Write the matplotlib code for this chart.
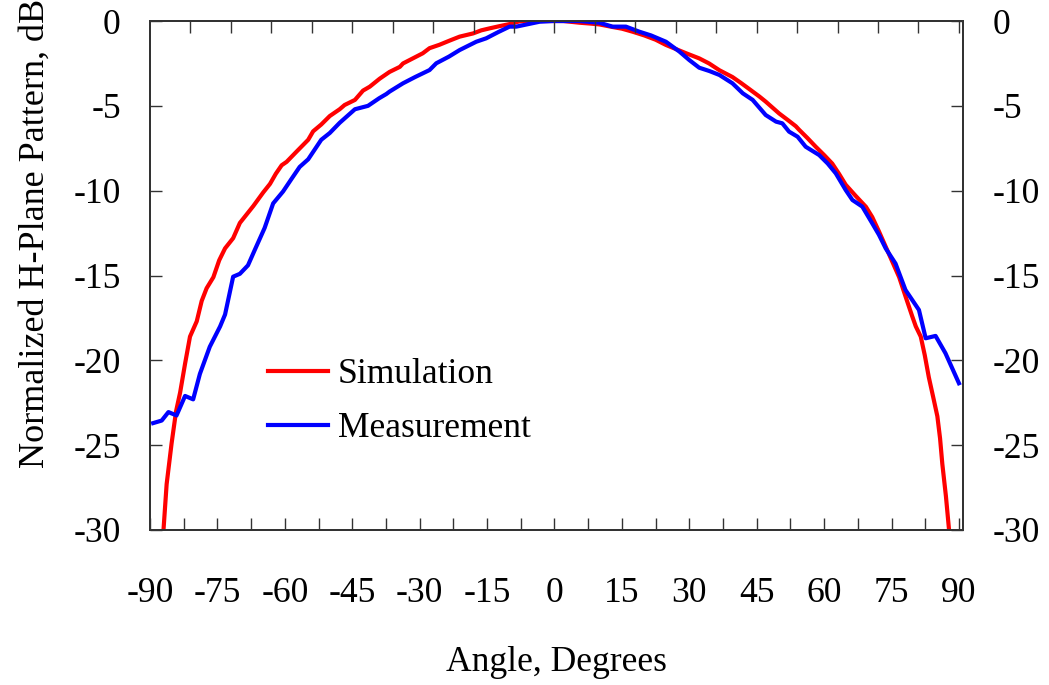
import matplotlib
matplotlib.use("Agg")
import matplotlib.pyplot as plt
from matplotlib.ticker import MultipleLocator

# Simulation (red) - angle in degrees, normalized pattern in dB
sim_angle = [-87.3, -87.0, -86.3, -85.2, -84.2, -83.3, -82.2, -81.1, -79.6, -78.5,
             -77.4, -75.9, -74.6, -73.3, -71.5, -70.0, -68.5, -67.0, -64.8, -63.3,
             -62.0, -60.7, -59.6, -57.4, -54.8, -53.7, -51.9, -50.0, -47.8, -46.7,
             -44.4, -42.6, -41.1, -38.9, -36.7, -34.4, -33.7, -31.5, -29.3, -27.8,
             -25.6, -23.3, -21.1, -18.1, -16.3, -14.4, -12.2, -10.0, -7.8, -5.0,
             -1.9, 2.0, 5.6, 8.0, 10.0, 12.9, 15.0, 17.4, 20.0, 22.5,
             24.8, 27.0, 29.3, 32.2, 34.4, 36.7, 39.6, 41.5, 43.3, 45.6,
             47.0, 48.5, 50.0, 52.0, 53.7, 54.4, 56.3, 58.1, 60.0, 61.8,
             63.3, 64.8, 67.0, 69.3, 70.7, 72.2, 73.7, 75.2, 76.7, 78.2,
             79.6, 80.4, 81.5, 82.4, 83.3, 84.3, 85.2, 85.8, 86.3, 87.1,
             87.8, 88.1]
sim_db = [-31.5, -30.0, -27.3, -24.9, -23.0, -21.9, -20.2, -18.6, -17.7, -16.5,
          -15.75, -15.1, -14.1, -13.4, -12.8, -11.9, -11.4, -10.9, -10.1, -9.6,
          -9.0, -8.5, -8.3, -7.7, -7.0, -6.5, -6.1, -5.6, -5.2, -4.95,
          -4.65, -4.1, -3.87, -3.4, -3.0, -2.7, -2.5, -2.2, -1.9, -1.6,
          -1.4, -1.15, -0.92, -0.73, -0.55, -0.43, -0.3, -0.18, -0.02, 0.0,
          0.0, 0.0, -0.1, -0.15, -0.2, -0.35, -0.45, -0.63, -0.85, -1.1,
          -1.41, -1.65, -1.9, -2.2, -2.5, -2.9, -3.3, -3.65, -4.0, -4.45,
          -4.75, -5.1, -5.45, -5.85, -6.2, -6.4, -6.9, -7.4, -7.9, -8.4,
          -9.0, -9.65, -10.3, -10.95, -11.55, -12.4, -13.3, -14.2, -15.1, -16.3,
          -17.4, -18.0, -18.6, -19.7, -21.0, -22.2, -23.3, -24.6, -26.1, -28.0,
          -30.0, -31.5]

# Measurement (blue)
meas_angle = [-89.3, -87.4, -85.9, -84.1, -82.2, -80.4, -78.9, -76.7, -74.4, -73.3,
              -71.5, -70.0, -68.2, -66.7, -64.5, -62.6, -60.4, -58.5, -56.7, -54.8,
              -51.9, -50.0, -47.8, -44.4, -41.5, -39.0, -37.4, -36.7, -33.7, -31.0,
              -27.8, -26.3, -23.5, -21.1, -17.4, -15.2, -12.5, -10.0, -8.5, -3.3,
              -0.4, 5.6, 10.0, 12.9, 15.9, 18.9, 21.5, 24.8, 27.8, 30.0,
              32.2, 34.5, 36.7, 39.6, 41.9, 44.1, 47.0, 49.3, 50.7, 52.2,
              54.1, 55.9, 58.9, 60.8, 62.6, 64.8, 66.3, 68.5, 70.7, 72.2,
              73.7, 75.9, 78.1, 81.1, 82.6, 84.8, 87.0, 90.0]
meas_db = [-23.7, -23.55, -23.05, -23.25, -22.1, -22.3, -20.8, -19.2, -18.0, -17.3,
           -15.07, -14.9, -14.4, -13.5, -12.2, -10.75, -10.05, -9.3, -8.6, -8.15,
           -7.0, -6.6, -6.0, -5.2, -5.0, -4.55, -4.3, -4.16, -3.67, -3.3,
           -2.89, -2.49, -2.1, -1.71, -1.22, -1.02, -0.65, -0.33, -0.33, -0.04,
           0.0, 0.0, -0.1, -0.33, -0.33, -0.63, -0.85, -1.22, -1.8, -2.3,
           -2.75, -2.95, -3.18, -3.67, -4.26, -4.65, -5.54, -5.93, -6.03, -6.52,
           -6.82, -7.41, -7.9, -8.4, -8.98, -9.96, -10.55, -10.94, -11.92, -12.6,
           -13.4, -14.3, -15.85, -17.03, -18.7, -18.56, -19.58, -21.35]

x_ticks = [-90, -75, -60, -45, -30, -15, 0, 15, 30, 45, 60, 75, 90]
y_ticks = [0, -5, -10, -15, -20, -25, -30]

plt.rcParams['font.family'] = ['Liberation Serif', 'DejaVu Serif']
fs = 25.6
spine_col = '#333333'

fig = plt.figure(figsize=(10.49, 6.85), dpi=100)
ax = fig.add_axes([0.143, 0.2263, 0.775, 0.743])

ax.plot(sim_angle, sim_db, color='#ff0000', lw=3.0, label='Simulation')
ax.plot(meas_angle, meas_db, color='#0000ff', lw=3.0, label='Measurement')

ax.set_xlim(-90, 90.9)
ax.set_ylim(-30, 0)
ax.set_xticks(x_ticks)
ax.set_xticklabels([str(t) for t in x_ticks])
ax.xaxis.set_minor_locator(MultipleLocator(7.5))
ax.set_yticks(y_ticks)
ax.set_yticklabels([str(t) for t in y_ticks])
ax.tick_params(axis='x', which='both', direction='in', length=8.5, width=1.0,
               color=spine_col, labelsize=fs, pad=34, top=False)
ax.tick_params(axis='y', which='both', direction='in', length=8.5, width=1.0,
               color=spine_col, labelsize=fs, pad=21)
for s in ax.spines.values():
    s.set_color(spine_col)
    s.set_linewidth(1.2)

ax.set_xlabel('Angle, Degrees', fontsize=fs, labelpad=26)

# secondary top axis: unlabeled ticks every 10 units
axt = ax.twiny()
axt.set_xlim(-100, 101)
axt.set_xticks(range(-90, 101, 10))
axt.tick_params(axis='x', direction='in', length=8.5, width=1.0, color=spine_col,
                labeltop=False)

# right axis repeats the dB scale
axr = ax.twinx()
axr.set_ylim(-30, 0)
axr.set_yticks(y_ticks)
axr.set_yticklabels([str(t) for t in y_ticks])
axr.tick_params(axis='y', direction='in', length=8.5, width=1.0, color=spine_col,
                labelsize=fs, pad=21)
for a in (axt, axr):
    for s in a.spines.values():
        s.set_color(spine_col)
        s.set_linewidth(1.2)

# long y label, reaches almost to the top edge
fig.text(35 / 1049, 1 - 468 / 685, 'Normalized H-Plane Pattern, dB', rotation=90,
         ha='center', va='bottom', fontsize=26.0)

ax.legend(loc='upper left', bbox_to_anchor=(268 / 1049, 1 - 358 / 685),
          bbox_transform=fig.transFigure, frameon=False, fontsize=fs,
          handlelength=1.69, handletextpad=0.28, labelspacing=0.6,
          borderaxespad=0, borderpad=0)

fig.savefig('out.png', dpi=100)
